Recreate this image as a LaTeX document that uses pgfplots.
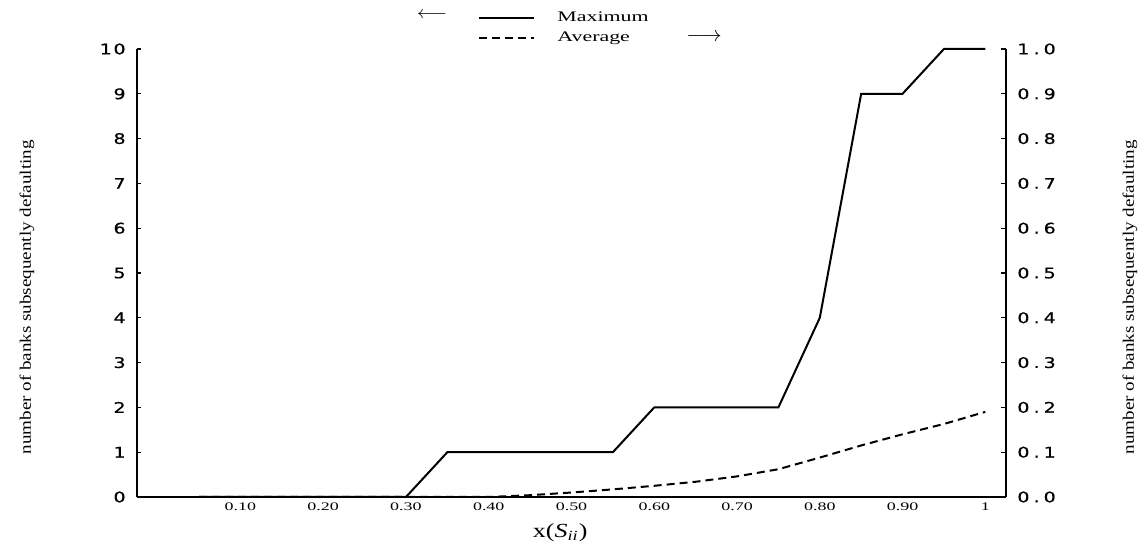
\documentclass[border=0pt]{standalone}
\usepackage{fontspec}
\usepackage{pgfplots}
\pgfplotsset{compat=1.18}
\usepackage{pgfplotstable}
\setmainfont{Liberation Serif}
\newfontfamily\tickfam[FakeStretch=1.3,LetterSpace=12,FakeBold=0.6]{DejaVu Sans}
\newfontfamily\rtickfam[FakeStretch=1.3,LetterSpace=28,FakeBold=0.6]{DejaVu Sans}
\newfontfamily\xtickfam[FakeStretch=1.55]{Liberation Serif}
\newfontfamily\labfam[FakeStretch=1.19]{Liberation Serif}
\newfontfamily\legfam[FakeStretch=1.5]{Liberation Serif}
\newfontfamily\xlabfam[FakeStretch=1.3]{Liberation Serif}
\newcommand\tickfnt{\tickfam\fontsize{7.3pt}{8pt}\selectfont}
\newcommand\rtickfnt{\rtickfam\fontsize{7.3pt}{8pt}\selectfont}
\newcommand\xtickfnt{\xtickfam\fontsize{5.8pt}{6.5pt}\selectfont}
\newcommand\labfnt{\labfam\fontsize{8pt}{9pt}\selectfont}
\newcommand\legfnt{\legfam\fontsize{7.3pt}{8pt}\selectfont}
\newcommand\xlabfnt{\xlabfam\fontsize{10pt}{11pt}\selectfont}

\pgfplotstableread{
x    max avg
0.05 0   0
0.10 0   0
0.15 0   0
0.20 0   0
0.25 0   0
0.30 0   0
0.35 1   0
0.40 1   0
0.45 1   0.004
0.50 1   0.010
0.55 1   0.017
0.60 2   0.025
0.65 2   0.034
0.70 2   0.046
0.75 2   0.062
0.80 4   0.088
0.85 9   0.115
0.90 9   0.140
0.95 10  0.163
1.00 10  0.190
}\datatable

\pgfplotsset{common/.style={
  scale only axis, width=434.5pt, height=224pt,
  xmin=-0.025, xmax=1.025,
  at={(0,0)}, anchor=south west, clip=false,
  tick align=inside,
  axis line style={line width=0.7pt},
  every tick/.style={black, line width=0.6pt},
}}

\begin{document}
\begin{tikzpicture}
\useasboundingbox (-68.5pt,-26.5pt) rectangle (501pt,248.5pt);
\begin{axis}[common,
  axis x line*=bottom, axis y line*=left,
  ymin=0, ymax=10,
  ytick={0,1,2,3,4,5,6,7,8,9,10},
  yticklabels={0,1,2,3,4,5,6,7,8,9,10},
  major tick length=1.8pt, minor tick length=1.2pt,
  xtick={0.1,0.2,0.3,0.4,0.5,0.6,0.7,0.8,0.9,1},
  xticklabels={0.10,0.20,0.30,0.40,0.50,0.60,0.70,0.80,0.90,1},
  xtick style={draw=none},
  minor xtick={0.025,0.075,0.125,0.175,0.225,0.275,0.325,0.375,0.425,0.475,0.525,0.575,0.625,0.675,0.725,0.775,0.825,0.875,0.925,0.975},
  yticklabel style={font=\tickfnt, inner sep=0pt, xshift=-5.5pt},
  xticklabel style={font=\xtickfnt, inner sep=0pt, yshift=-2.5pt},
  xlabel={x(\textit{S}\textsubscript{\textit{ii}})},
  xlabel style={font=\xlabfnt, at={(axis description cs:0.487,-0.0804)}, anchor=center},
  ylabel={number of banks subsequently defaulting},
  ylabel style={font=\labfnt, at={(axis description cs:-0.1266,0.446)}, anchor=center},
]
\addplot[black, line width=1pt] table[x=x, y=max] {\datatable};
\end{axis}
\begin{axis}[common,
  axis x line=none, axis y line*=right,
  ymin=0, ymax=1,
  major tick length=2.5pt,
  ytick={0,0.1,0.2,0.3,0.4,0.5,0.6,0.7,0.8,0.9,1},
  yticklabels={0.0,0.1,0.2,0.3,0.4,0.5,0.6,0.7,0.8,0.9,1.0},
  yticklabel style={font=\rtickfnt, inner sep=0pt, xshift=5.5pt},
  ylabel={number of banks subsequently defaulting},
  ylabel style={font=\labfnt, at={(axis description cs:1.1427,0.446)}, anchor=center},
  legend cell align=left,
  legend image code/.code={\draw[#1] (0pt,0pt) -- (27.5pt,0pt);},
  legend style={draw=none, fill=none, at={(axis description cs:0.3924,1.0837)}, anchor=north west,
    inner sep=0pt, row sep=3.5pt, column sep=11pt, font=\legfnt, nodes={inner sep=0pt}},
]
\addlegendimage{black, line width=1pt}
\addlegendentry{Maximum}
\addplot[black, line width=1pt, dash pattern=on 4pt off 2.5pt] table[x=x, y=avg] {\datatable};
\addlegendentry{Average}
\node at (axis description cs:0.3395,1.0760) {\fontsize{9pt}{10pt}\selectfont$\longleftarrow$};
\node at (axis description cs:0.6525,1.025) {\fontsize{11pt}{12pt}\selectfont$\longrightarrow$};
\end{axis}
\end{tikzpicture}
\end{document}
